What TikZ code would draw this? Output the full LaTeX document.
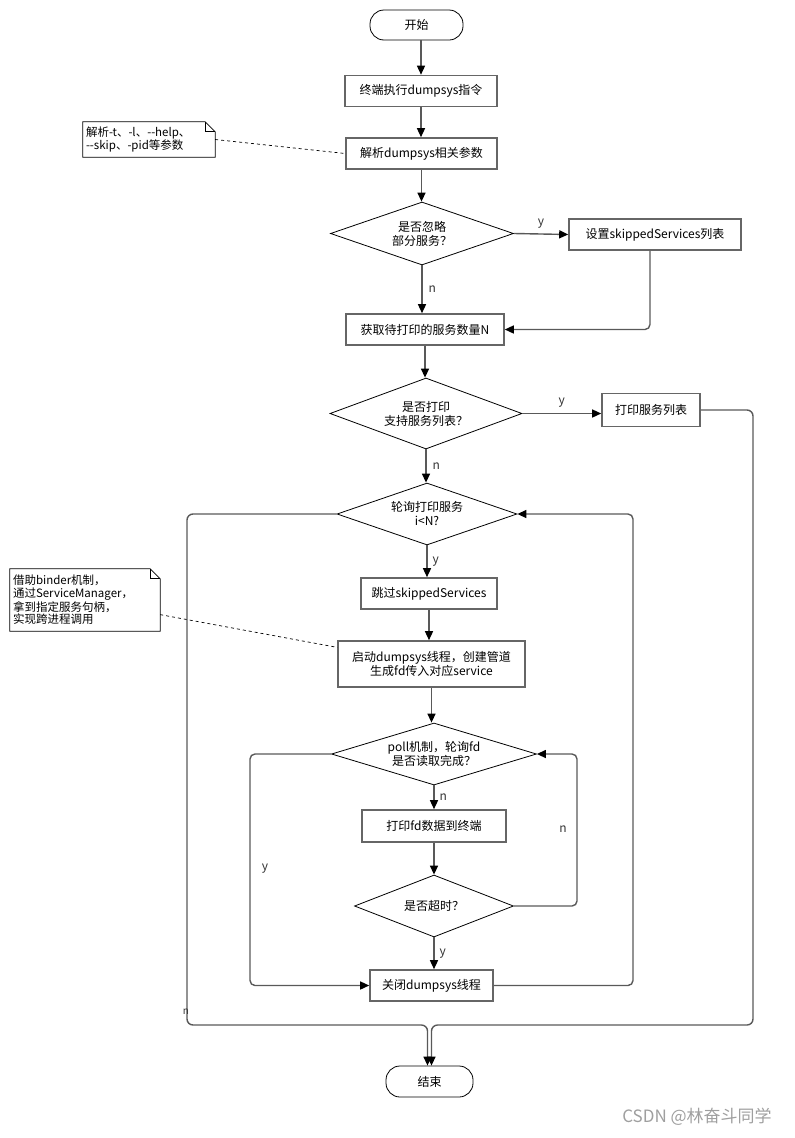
\documentclass[tikz,border=0pt]{standalone}
\usepackage{fontspec}
\setmainfont{Noto Sans CJK SC}
\usetikzlibrary{shapes.geometric,arrows.meta,calc}
\definecolor{ln}{HTML}{595959}
\definecolor{bx}{HTML}{666666}
\newcommand\drawnote[1]{%
  \draw[notebd] (#1.south west) -- (#1.north west) -- ([xshift=-10pt]#1.north east)
    -- ([yshift=-10pt]#1.north east) -- (#1.south east) -- cycle;
  \draw[notebd] ([xshift=-10pt]#1.north east) |- ([yshift=-10pt]#1.north east);}
\begin{document}
\begin{tikzpicture}[x=1pt,y=-1pt,
  txt/.style={font=\fontsize{12}{14}\selectfont},
  proc/.style={txt, draw=bx, line width=1.6pt, fill=white, minimum height=31pt, inner sep=2pt, align=center},
  term/.style={txt, draw=black, line width=0.8pt, rounded corners=14pt, minimum height=30pt, inner sep=2pt},
  dec/.style={txt, diamond, aspect=3, draw=black, line width=0.8pt, inner sep=0pt, align=center},
  conn/.style={draw=ln, line width=1.4pt, -{Triangle[length=9pt,width=8pt,color=black]}},
  lbl/.style={txt, text=black!80, inner sep=3pt},
  notetxt/.style={font=\fontsize{11.5}{12.5}\selectfont, align=left, inner sep=3pt},
  notebd/.style={draw=black, line width=0.7pt},
  dashln/.style={draw=black, line width=0.7pt, dash pattern=on 3pt off 3pt}]
\useasboundingbox (0,0) rectangle (795,1138);

% nodes
\node[term, minimum width=93pt] (start) at (416.5,25) {开始};
\node[proc, minimum width=152pt] (s1) at (421,91) {终端执行dumpsys指令};
\node[proc, minimum width=151pt] (s2) at (421.5,153.5) {解析dumpsys相关参数};
\node[notetxt, text width=126pt, minimum height=35pt] (note1) at (149,139.5) {解析-t、-l、-{}-help、\\-{}-skip、-pid等参数};
\node[dec, minimum width=183pt, minimum height=63pt] (d1) at (422,233.5) {是否忽略\\部分服务？};
\node[proc, minimum width=172pt] (r1) at (655,234.5) {设置skippedServices列表};
\node[proc, minimum width=158pt] (r2) at (425,329.5) {获取待打印的服务数量N};
\node[dec, minimum width=192pt, minimum height=71pt] (d2) at (426,413.5) {是否打印\\支持服务列表？};
\node[proc, minimum width=98pt, minimum height=33pt] (r3) at (651,410) {打印服务列表};
\node[dec, minimum width=180pt, minimum height=62pt] (d3) at (427,514) {轮询打印服务\\i<N?};
\node[proc, minimum width=136pt] (r4) at (429,593.5) {跳过skippedServices};
\node[notetxt, text width=144pt, minimum height=62pt] (note2) at (85,600) {借助binder机制，\\通过ServiceManager，\\拿到指定服务句柄，\\实现跨进程调用};
\node[proc, minimum width=187pt, minimum height=46pt, font=\fontsize{12}{13.5}\selectfont] (r5) at (431.5,664) {启动dumpsys线程，创建管道\\生成fd传入对应service};
\node[dec, minimum width=205pt, minimum height=62pt] (d4) at (434,754) {poll机制，轮询fd\\是否读取完成？};
\node[proc, minimum width=144pt, minimum height=32pt] (r6) at (434,826) {打印fd数据到终端};
\node[dec, minimum width=159pt, minimum height=62pt] (d5) at (434,906) {是否超时？};
\node[proc, minimum width=123pt] (r7) at (431.5,985.5) {关闭dumpsys线程};
\node[term, minimum width=87pt, minimum height=31pt] (end) at (429.5,1081.5) {结束};
\node[text=gray!75, font=\fontsize{17}{19}\selectfont, inner sep=0pt] (wm) at (697,1117) {CSDN @林奋斗同学};

% notes
\drawnote{note1}
\drawnote{note2}
\draw[dashln] (note1.east) -- (s2.west);
\draw[dashln] (note2.-11) -- (r5.170);

% main flow
\draw[conn] (start.south -| s1.north) -- (s1.north);
\draw[conn] (s1.south) -- (s1.south |- s2.north);
\draw[conn] (s2.south) -- (s2.south |- d1.north);
\draw[conn] (d1.east) -- node[lbl,above,yshift=2pt]{y} (r1.west);
\draw[conn] (d1.south) -- node[lbl,right,xshift=3pt]{n} (d1.south |- r2.north);
\draw[conn, rounded corners=5pt] ([xshift=-5pt]r1.south) |- (r2.east);
\draw[conn] (r2.south) -- (r2.south |- d2.north);
\draw[conn] (d2.east) -- node[lbl,above,yshift=2pt]{y} (d2.east -| r3.west);
\draw[conn] (d2.south) -- node[lbl,right,xshift=3pt]{n} (d2.south |- d3.north);
\draw[conn] (d3.south) -- node[lbl,right,xshift=2pt]{y} (d3.south |- r4.north);
\draw[conn] (r4.south) -- (r4.south |- r5.north);
\draw[conn] (r5.south) -- (r5.south |- d4.north);
\draw[conn] (d4.south) -- node[lbl,right,xshift=2pt]{n} (d4.south |- r6.north);
\draw[conn] (r6.south) -- (r6.south |- d5.north);
\draw[conn] (d5.south) -- node[lbl,right,xshift=2pt]{y} (d5.south |- r7.north);

% loops
\draw[conn, rounded corners=5pt] (d4.west) -| (250,900) |- (r7.west);
\node[lbl] (ly) at (265,869) {y};
\draw[conn, rounded corners=5pt] (d5.east) -| (577,830) |- (d4.east);
\node[lbl] (ln5) at (563,829) {n};
\draw[conn, rounded corners=5pt] (r7.east) -| (633,700) |- (d3.east);
\draw[conn, rounded corners=6pt] (d3.west) -| (187,1025) -| ([xshift=-2pt]end.north);
\node[lbl, font=\fontsize{10}{12}\selectfont, inner sep=0pt] (ln3) at (186,1012) {n};
\draw[conn, rounded corners=6pt] (r3.east) -| (753,1025) -| ([xshift=2pt]end.north);
\end{tikzpicture}
\end{document}
